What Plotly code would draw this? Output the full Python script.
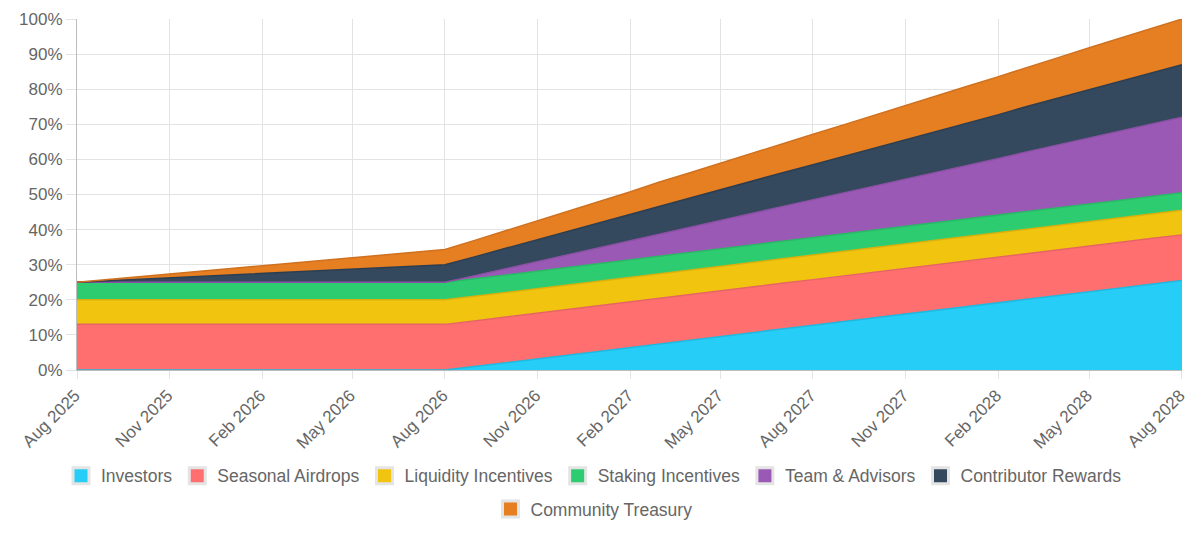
import plotly.graph_objects as go

months = [
    "2025-08-01", "2025-09-01", "2025-10-01", "2025-11-01", "2025-12-01", "2026-01-01",
    "2026-02-01", "2026-03-01", "2026-04-01", "2026-05-01", "2026-06-01", "2026-07-01",
    "2026-08-01", "2026-09-01", "2026-10-01", "2026-11-01", "2026-12-01", "2027-01-01",
    "2027-02-01", "2027-03-01", "2027-04-01", "2027-05-01", "2027-06-01", "2027-07-01",
    "2027-08-01", "2027-09-01", "2027-10-01", "2027-11-01", "2027-12-01", "2028-01-01",
    "2028-02-01", "2028-03-01", "2028-04-01", "2028-05-01", "2028-06-01", "2028-07-01",
    "2028-08-01",
]

tick_dates = ["2025-08-01", "2025-11-01", "2026-02-01", "2026-05-01", "2026-08-01",
              "2026-11-01", "2027-02-01", "2027-05-01", "2027-08-01", "2027-11-01",
              "2028-02-01", "2028-05-01", "2028-08-01"]
tick_labels = ["Aug 2025", "Nov 2025", "Feb 2026", "May 2026", "Aug 2026", "Nov 2026",
               "Feb 2027", "May 2027", "Aug 2027", "Nov 2027", "Feb 2028", "May 2028",
               "Aug 2028"]

investors = [0, 0, 0, 0, 0, 0, 0, 0, 0, 0, 0, 0, 0,
             1.06, 2.13, 3.19, 4.25, 5.31, 6.38, 7.44, 8.5, 9.56, 10.63, 11.69, 12.75,
             13.81, 14.88, 15.94, 17.0, 18.06, 19.13, 20.19, 21.25, 22.31, 23.38, 24.44, 25.5]

seasonal_airdrops = [13] * 37

liquidity_incentives = [7] * 37

staking_incentives = [5] * 37

team_advisors = [0, 0, 0, 0, 0, 0, 0, 0, 0, 0, 0, 0, 0,
                 0.9, 1.79, 2.69, 3.58, 4.48, 5.38, 6.27, 7.17, 8.06, 8.96, 9.85, 10.75,
                 11.65, 12.54, 13.44, 14.33, 15.23, 16.13, 17.02, 17.92, 18.81, 19.71, 20.6, 21.5]

contributor_rewards = [0, 0.42, 0.83, 1.25, 1.67, 2.08, 2.5, 2.92, 3.33, 3.75, 4.17, 4.58,
                       5.0, 5.42, 5.83, 6.25, 6.67, 7.08, 7.5, 7.92, 8.33, 8.75, 9.17, 9.58,
                       10.0, 10.42, 10.83, 11.25, 11.67, 12.08, 12.5, 12.92, 13.33, 13.75,
                       14.17, 14.58, 15.0]

community_treasury = [0, 0.36, 0.72, 1.08, 1.44, 1.81, 2.17, 2.53, 2.89, 3.25, 3.61, 3.97,
                      4.33, 4.69, 5.06, 5.42, 5.78, 6.14, 6.5, 6.86, 7.22, 7.58, 7.94, 8.31,
                      8.67, 9.03, 9.39, 9.75, 10.11, 10.47, 10.83, 11.19, 11.56, 11.92,
                      12.28, 12.64, 13.0]

series_names = ["Investors", "Seasonal Airdrops", "Liquidity Incentives", "Staking Incentives",
                "Team & Advisors", "Contributor Rewards", "Community Treasury"]
series_values = [investors, seasonal_airdrops, liquidity_incentives, staking_incentives,
                 team_advisors, contributor_rewards, community_treasury]
fill_colors = ["#25CDF7", "#FF6F70", "#F1C40F", "#2ECC71", "#9B59B6", "#34495E", "#E67E22"]
line_colors = ["#1FB8DE", "#E66465", "#D9B00D", "#29B865", "#8B50A4", "#2C3E50", "#CF711F"]

FONT = "Liberation Sans, Arial, sans-serif"

fig = go.Figure()
for i, (name, vals) in enumerate(zip(series_names, series_values)):
    fig.add_trace(go.Scatter(
        x=months, y=vals, name=name, mode="lines",
        stackgroup="one",
        line=dict(color=line_colors[i], width=1.5),
        fillcolor=fill_colors[i],
        showlegend=False,
        hovertemplate="%{y:.2f}%<extra>" + name + "</extra>",
    ))

# legend entries drawn as square boxes
for i, name in enumerate(series_names):
    fig.add_trace(go.Scatter(
        x=[None], y=[None], name=name, mode="markers",
        marker=dict(symbol="square", size=16, color=fill_colors[i],
                    line=dict(color="#e4e4e4", width=3)),
        legend="legend2" if i == 6 else "legend",
        hoverinfo="skip",
    ))

legend_common = dict(
    orientation="h", xref="container", xanchor="center", x=0.5, yanchor="top",
    font=dict(family=FONT, size=17.5, color="#666666"),
    bgcolor="rgba(0,0,0,0)", itemclick=False, itemdoubleclick=False,
    traceorder="normal",
)

fig.update_layout(
    template="none",
    width=1188, height=535,
    margin=dict(l=77, r=6, t=19, b=165, autoexpand=False),
    paper_bgcolor="white", plot_bgcolor="white",
    font=dict(family=FONT, size=17, color="#666666"),
    showlegend=True,
    legend=dict(y=-0.25, **legend_common),
    legend2=dict(y=-0.345, **legend_common),
    xaxis=dict(
        type="date",
        range=["2025-08-01", "2028-08-01 00:20"],
        tickmode="array", tickvals=tick_dates, ticktext=tick_labels,
        tickangle=-45, ticklabeloverflow="allow", ticklabelshift=-2,
        showgrid=True, gridcolor="#e3e3e3", gridwidth=1,
        showline=True, linecolor="#bdbdbd", linewidth=1,
        ticks="outside", ticklen=8, tickcolor="#e3e3e3",
        tickfont=dict(family=FONT, size=17, color="#666666"),
        zeroline=False, automargin=False,
    ),
    yaxis=dict(
        range=[0, 100], dtick=10, ticksuffix="%",
        showgrid=True, gridcolor="#e3e3e3", gridwidth=1,
        showline=True, linecolor="#bdbdbd", linewidth=1,
        ticks="outside", ticklen=10, tickcolor="#e3e3e3",
        tickfont=dict(family=FONT, size=17, color="#666666"),
        zeroline=False, automargin=False,
    ),
)

fig.write_html("out.html", config={"displayModeBar": False},
               post_script="document.body.style.margin='0';")
